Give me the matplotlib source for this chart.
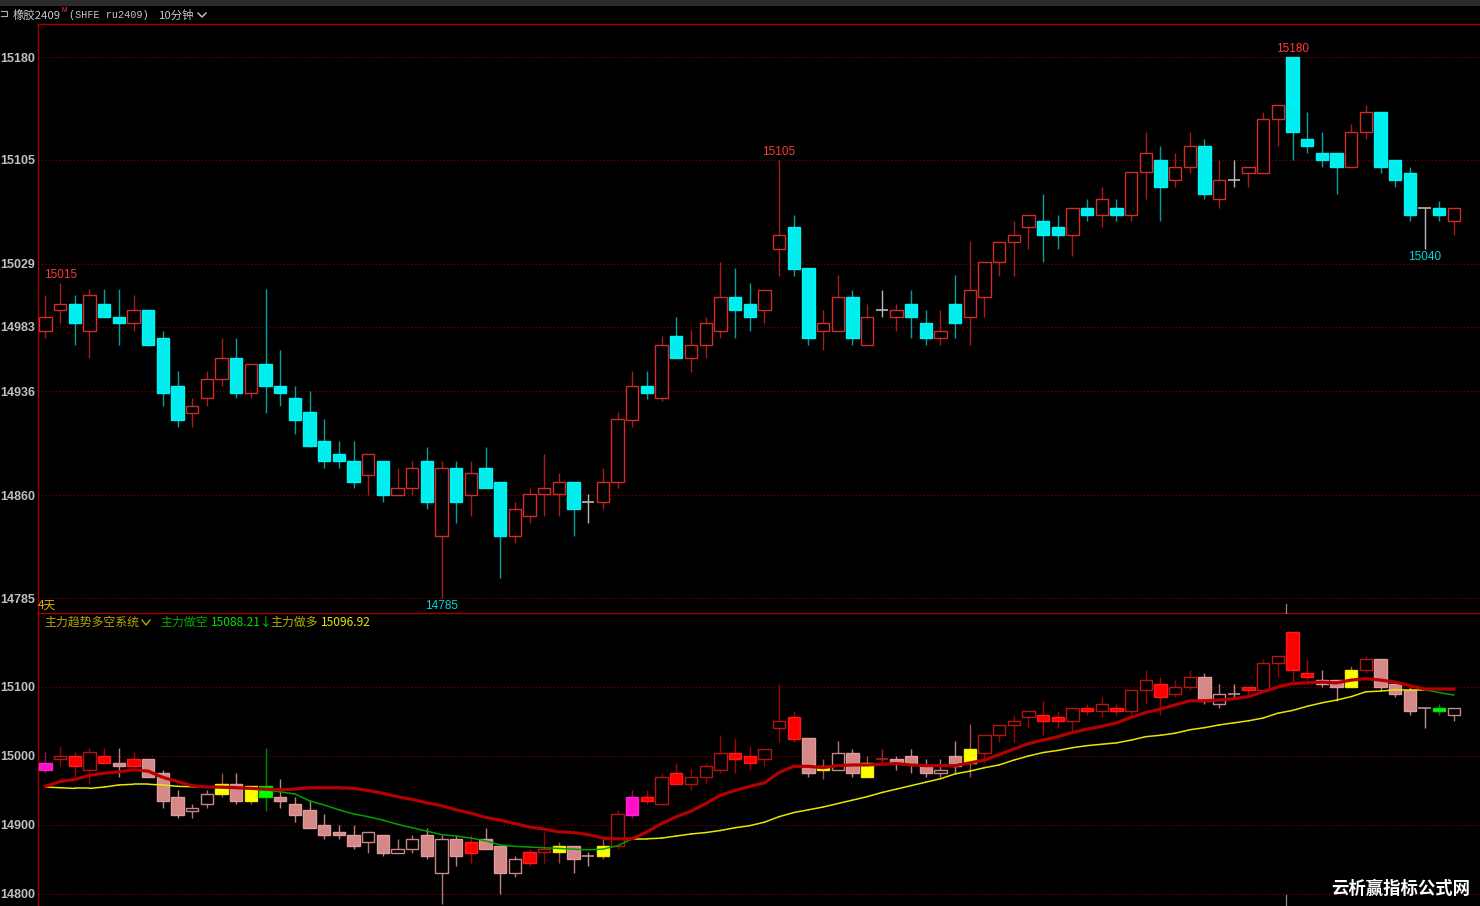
import numpy as np
import matplotlib
matplotlib.use("Agg")
import matplotlib.pyplot as plt
from matplotlib.patches import Rectangle
from matplotlib.lines import Line2D

# ---------------- data ----------------
opens = [14980, 14995, 15000, 14980, 15000, 14990, 14986, 14995, 14975, 14940,
         14920, 14931, 14945, 14960, 14935, 14956, 14940, 14931, 14921, 14900,
         14890, 14885, 14875, 14885, 14860, 14865, 14885, 14830, 14880, 14860,
         14880, 14870, 14830, 14845, 14861, 14861, 14870, 14855, 14855, 14870,
         14915, 14940, 14931, 14976, 14960, 14970, 14980, 15005, 15000, 14995,
         15040, 15056, 15026, 14980, 14980, 15005, 14970, 14995, 14990, 15000,
         14986, 14975, 15000, 14990, 15005, 15030, 15045, 15056, 15060, 15056,
         15050, 15070, 15065, 15070, 15065, 15096, 15105, 15090, 15100, 15115,
         15076, 15090, 15095, 15095, 15135, 15180, 15120, 15110, 15110, 15100,
         15125, 15140, 15105, 15095, 15070, 15070, 15060]
highs = [15006, 15015, 15006, 15011, 15011, 15011, 15006, 14995, 14980, 14951,
         14931, 14951, 14975, 14975, 14956, 15011, 14966, 14940, 14936, 14916,
         14900, 14900, 14890, 14885, 14880, 14885, 14895, 14885, 14885, 14885,
         14895, 14870, 14855, 14865, 14890, 14876, 14870, 14861, 14880, 14921,
         14951, 14951, 14976, 14990, 14981, 14990, 15030, 15026, 15015, 15010,
         15105, 15065, 15026, 14995, 15021, 15010, 15000, 15010, 15000, 15010,
         14995, 14995, 15021, 15046, 15030, 15045, 15060, 15065, 15080, 15065,
         15070, 15076, 15085, 15076, 15096, 15125, 15115, 15110, 15125, 15120,
         15105, 15105, 15100, 15140, 15145, 15180, 15140, 15125, 15110, 15131,
         15145, 15140, 15105, 15100, 15070, 15075, 15070]
lows = [14975, 14986, 14970, 14960, 14990, 14970, 14980, 14969, 14925, 14910,
        14910, 14925, 14940, 14931, 14931, 14920, 14925, 14905, 14895, 14880,
        14880, 14865, 14860, 14855, 14860, 14860, 14850, 14785, 14840, 14845,
        14865, 14800, 14825, 14840, 14845, 14845, 14830, 14840, 14850, 14865,
        14910, 14930, 14929, 14960, 14950, 14960, 14975, 14975, 14980, 14986,
        15020, 15020, 14970, 14966, 14980, 14970, 14970, 14990, 14980, 14975,
        14970, 14970, 14975, 14970, 14990, 15020, 15020, 15040, 15030, 15040,
        15035, 15060, 15056, 15060, 15060, 15076, 15060, 15085, 15095, 15076,
        15070, 15085, 15085, 15095, 15115, 15105, 15110, 15100, 15080, 15100,
        15120, 15095, 15085, 15060, 15040, 15060, 15050]
closes = [14990, 15000, 14986, 15006, 14990, 14986, 14995, 14970, 14935, 14915,
          14925, 14945, 14960, 14935, 14956, 14940, 14935, 14915, 14896, 14885,
          14885, 14870, 14890, 14860, 14865, 14880, 14855, 14880, 14855, 14876,
          14865, 14830, 14850, 14861, 14865, 14870, 14850, 14855, 14870, 14916,
          14940, 14935, 14970, 14960, 14970, 14986, 15005, 14995, 14990, 15010,
          15050, 15025, 14975, 14986, 15005, 14975, 14990, 14995, 14995, 14990,
          14975, 14980, 14986, 15010, 15030, 15045, 15050, 15065, 15050, 15050,
          15070, 15065, 15076, 15065, 15096, 15110, 15085, 15100, 15115, 15080,
          15090, 15090, 15100, 15135, 15145, 15125, 15115, 15105, 15100, 15125,
          15140, 15100, 15090, 15065, 15070, 15065, 15070]

# indicator lines
fast_line = [14956, 14963, 14966, 14972, 14975, 14977, 14980, 14978, 14969, 14963,
             14957, 14955, 14954, 14954, 14953, 14951, 14948, 14945, 14935, 14929,
             14922, 14916, 14912, 14907, 14901, 14896, 14891, 14886, 14884, 14881,
             14877, 14871, 14869, 14868, 14867, 14866, 14865, 14864, 14865, 14870,
             14880, 14890, 14902, 14912, 14920, 14931, 14943, 14950, 14956, 14961,
             14976, 14985, 14985, 14983, 14986, 14987, 14987, 14988, 14989, 14987,
             14986, 14986, 14986, 14990, 14994, 15002, 15010, 15018, 15023, 15028,
             15034, 15039, 15043, 15048, 15056, 15063, 15068, 15074, 15080, 15080,
             15081, 15083, 15086, 15093, 15100, 15105, 15106, 15107, 15106, 15110,
             15112, 15110, 15107, 15102, 15096, 15092, 15088.21]
slow_line = [14955, 14954, 14953, 14953, 14955, 14958, 14959, 14959, 14958, 14956,
             14955.5, 14955, 14955, 14954, 14953, 14952, 14951, 14952, 14954, 14954,
             14954, 14953, 14950, 14946, 14941, 14937, 14932, 14928, 14922, 14917,
             14911, 14907, 14902, 14897, 14894, 14890, 14889, 14886, 14881, 14880,
             14880, 14880, 14881, 14884, 14887, 14889, 14892, 14896, 14899, 14904,
             14912, 14918, 14922, 14926, 14931, 14936, 14941, 14947, 14952, 14957,
             14962, 14967, 14974, 14978, 14983, 14987, 14994, 15000, 15005, 15008,
             15012, 15015, 15017, 15019, 15023, 15028, 15030, 15033, 15038, 15041,
             15045, 15048, 15051, 15055, 15062, 15066, 15072, 15077, 15081, 15086,
             15093, 15094, 15096, 15096, 15097, 15097, 15096.92]

# lower-panel candle colour classes
lower_style = list("MrRrRPRPPPppYPYGPPPPPPpPppPpPRPPpRrYPdYrMRrRrrrRRrrRPYpPYDPPPpPYrrrrRRrRrRrrRrrPpdRrrRRPPYrPPPdGp")

top_ticks = [15180, 15105, 15029, 14983, 14936, 14860, 14785]
bottom_ticks = [15100, 15000, 14900, 14800]

high_marks = [(1, "15015"), (50, "15105"), (85, "15180")]
low_marks = [(27, "14785"), (94, "15040")]

# ---------------- figure ----------------
W, H = 1480, 906
fig = plt.figure(figsize=(W / 100, H / 100), dpi=100, facecolor="black")

def fx(x):
    return x / W

def fy(y):
    return 1 - y / H

CJK = ["Noto Sans CJK SC", "DejaVu Sans"]
NUM = "Liberation Sans"

left = 38
ax1 = fig.add_axes([fx(left), fy(613), (W - left) / W, (613 - 24) / H])
ax2 = fig.add_axes([fx(left), 0, (W - left) / W, (906 - 613) / H])

n = len(opens)
xs = np.arange(n)
xlim = (-0.51, 97.78)
BW = 0.84

for ax in (ax1, ax2):
    ax.set_facecolor("black")
    ax.set_xlim(*xlim)
    ax.set_xticks([])
    for s in ("right", "bottom"):
        ax.spines[s].set_visible(False)
    for s in ("left", "top"):
        ax.spines[s].set_color("#a00000")
        ax.spines[s].set_linewidth(1.0)
    ax.tick_params(axis="y", length=0, pad=2.0, colors="#c0c0c0")
    ax.grid(axis="y", color="#8a0000", linestyle=(0, (1, 2.2)), linewidth=0.8)
    ax.set_axisbelow(True)

ax1.set_ylim(14774.1, 15204.1)
ax2.set_ylim(14782.6, 15207.2)
ax1.set_yticks(top_ticks)
ax1.set_yticklabels([str(t) for t in top_ticks])
ax2.set_yticks(bottom_ticks)
ax2.set_yticklabels([str(t) for t in bottom_ticks])
for ax in (ax1, ax2):
    for lab in ax.get_yticklabels():
        lab.set_fontfamily(NUM)
        lab.set_fontweight("bold")
        lab.set_fontsize(9)
        lab.set_color("#c0c0c0")


def candle(ax, i, o, h, l, c, face, edge, wick):
    if o == c:
        ax.vlines(i, l, h, color=wick, lw=1.0, zorder=2)
        ax.hlines(o, i - BW / 2, i + BW / 2, color=wick, lw=1.2, zorder=3)
        return
    ax.vlines(i, l, h, color=wick, lw=1.0, zorder=2)
    lo, hi = min(o, c), max(o, c)
    ax.add_patch(Rectangle((i - BW / 2, lo), BW, hi - lo, facecolor=face,
                           edgecolor=edge, lw=1.0, zorder=3))


# top panel candles
for i in range(n):
    o, h, l, c = opens[i], highs[i], lows[i], closes[i]
    if c > o:
        candle(ax1, i, o, h, l, c, "black", "#d42a2a", "#a81c1c")
    elif c < o:
        candle(ax1, i, o, h, l, c, "#00eeee", "#00f4f4", "#00a0a0")
    else:
        candle(ax1, i, o, h, l, c, "none", "#b8b8b8", "#b8b8b8")

# high/low labels
for i, t in high_marks:
    ax1.annotate(t, (i, highs[i]), xytext=(0, 1.5), textcoords="offset points",
                 ha="center", va="bottom", color="#ff3a3a", fontsize=8.5,
                 fontfamily=NUM)
for i, t in low_marks:
    ax1.annotate(t, (i, lows[i]), xytext=(0, -1.5), textcoords="offset points",
                 ha="center", va="top", color="#00d8d8", fontsize=8.5,
                 fontfamily=NUM)

# lower panel candles
styles = {
    "R": ("#ff0000", "#ff1a1a", "#b00000"),
    "r": ("black", "#b81414", "#a00000"),
    "P": ("#d48888", "#e09c9c", "#c08080"),
    "p": ("black", "#c88888", "#b07878"),
    "Y": ("#ffff00", "#f0f000", "#a05050"),
    "G": ("#00ff00", "#00e000", "#008a00"),
    "M": ("#ff10c8", "#ff20d0", "#a00070"),
    "d": ("none", "#c09090", "#c09090"),
    "D": ("none", "#b82020", "#b82020"),
}
for i in range(n):
    face, edge, wick = styles[lower_style[i]]
    o, h, l, c = opens[i], highs[i], lows[i], closes[i]
    if lower_style[i] in "dD":
        candle(ax2, i, o, h, l, o, face, edge, wick)
    else:
        candle(ax2, i, o, h, l, c, face, edge, wick)

F = np.array(fast_line, dtype=float)
S = np.array(slow_line, dtype=float)
upper = np.maximum(F, S)
lower = np.minimum(F, S)
for k in range(n - 1):
    col = "#e6e600" if (F[k] + F[k + 1]) >= (S[k] + S[k + 1]) else "#00a000"
    ax2.plot(xs[k:k + 2], lower[k:k + 2], color=col, lw=1.1, zorder=5,
             solid_capstyle="round")
ax2.plot(xs, upper, color="#b40000", lw=2.3, zorder=6, solid_joinstyle="round")

# ---------------- header & texts ----------------
fig.patches.append(Rectangle((0, fy(6)), 1, 6 / H, transform=fig.transFigure,
                             facecolor="#2c2c2c", edgecolor="none"))
# small icon
fig.lines.append(Line2D([fx(1), fx(7), fx(7), fx(1)], [fy(11), fy(11), fy(16), fy(16)],
                        transform=fig.transFigure, color="#b0b0b0", lw=0.8))
fig.text(fx(13), fy(15), "橡胶2409", color="#c8c8c8", fontsize=8.2,
         family=CJK, va="center", ha="left")
fig.text(fx(61.5), fy(10), "M", color="#ff3030", fontsize=4.8, family=NUM,
         va="center", ha="left")
fig.text(fx(69), fy(15), "(SHFE ru2409)", color="#c8c8c8", fontsize=7.3,
         family="Liberation Mono", va="center", ha="left")
fig.text(fx(159), fy(15), "10分钟", color="#c8c8c8", fontsize=8.2,
         family=CJK, va="center", ha="left")
fig.lines.append(Line2D([fx(198), fx(202), fx(206)], [fy(13), fy(17), fy(13)],
                        transform=fig.transFigure, color="#c8c8c8", lw=1.0))

fig.text(fx(38), fy(605), "4天", color="#d8b400", fontsize=8.5, family=CJK,
         va="center", ha="left")

fig.text(fx(44), fy(622), "主力趋势多空系统", color="#b8a400", fontsize=8.6,
         family=CJK, va="center", ha="left")
fig.lines.append(Line2D([fx(142), fx(146), fx(150)], [fy(620), fy(625), fy(620)],
                        transform=fig.transFigure, color="#b8a400", lw=1.0))
fig.text(fx(160), fy(622), "主力做空", color="#00b000", fontsize=8.6,
         family=CJK, va="center", ha="left")
fig.text(fx(211), fy(622), "15088.21↓", color="#00e000", fontsize=8.6,
         family=CJK, va="center", ha="left")
fig.text(fx(270), fy(622), "主力做多", color="#b0b000", fontsize=8.6,
         family=CJK, va="center", ha="left")
fig.text(fx(321), fy(622), "15096.92", color="#e8e800", fontsize=8.6,
         family=CJK, va="center", ha="left")

# small day separator ticks
for y0, y1 in ((604, 613), (895, 906)):
    fig.lines.append(Line2D([fx(1285.5), fx(1285.5)], [fy(y0), fy(y1)],
                            transform=fig.transFigure, color="#8a8a8a", lw=0.9))

fig.text(fx(1401), fy(889), "云析赢指标公式网", color="white", fontsize=12.5,
         fontweight="bold", family=CJK, va="center", ha="center")

fig.savefig("out.png", dpi=100, facecolor="black")
